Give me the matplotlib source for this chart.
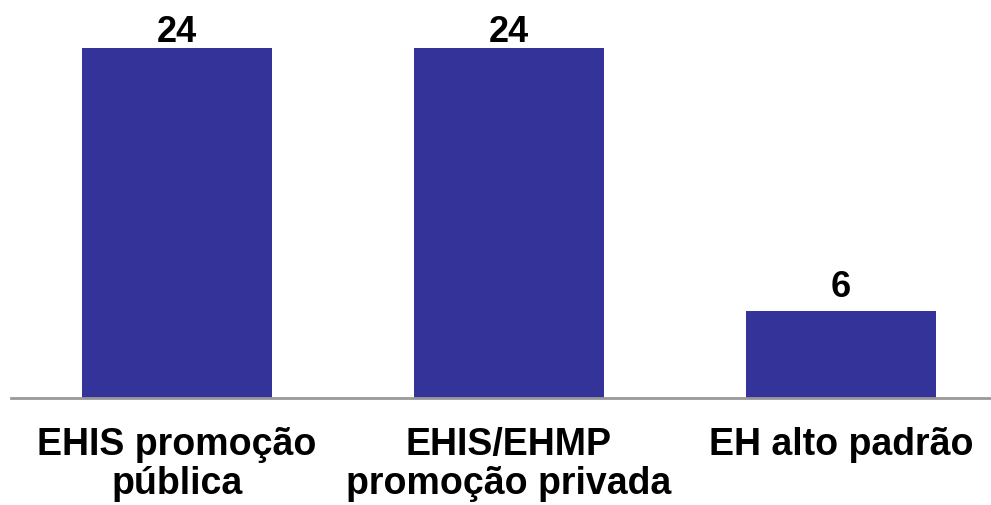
import matplotlib
matplotlib.use("Agg")
import matplotlib.pyplot as plt

categories = ["EHIS promoção\npública", "EHIS/EHMP\npromoção privada", "EH alto padrão"]
values = [24, 24, 6]

plt.rcParams['font.family'] = ['Liberation Sans', 'DejaVu Sans']

W, H = 991, 505
fig = plt.figure(figsize=(W/100, H/100), dpi=100)
left = 11 / W
bottom = (H - 398) / H
ax = fig.add_axes([left, bottom, 1 - left, 1 - bottom])

x = list(range(len(categories)))
ax.bar(x, values, width=0.572, color='#333399', zorder=2)
ax.set_xlim(-0.5, -0.5 + 980 / 332)
ax.set_ylim(0, 24 * 398 / 350)

vmax = max(values)
for xi, v in zip(x, values):
    off = 4.3 if v == vmax else 9.4
    ax.annotate(str(v), (xi, v), xytext=(0, off), textcoords='offset points',
                ha='center', va='baseline', fontsize=26, fontweight='bold')

for s in ['top', 'right', 'left']:
    ax.spines[s].set_visible(False)
ax.spines['bottom'].set_color('#999999')
ax.spines['bottom'].set_linewidth(2)
ax.set_yticks([])
ax.set_xticks(x)
ax.set_xticklabels(categories, fontsize=27, fontweight='bold', linespacing=1.1)
ax.tick_params(axis='x', length=0, pad=21)

fig.savefig("out.png", dpi=100)
